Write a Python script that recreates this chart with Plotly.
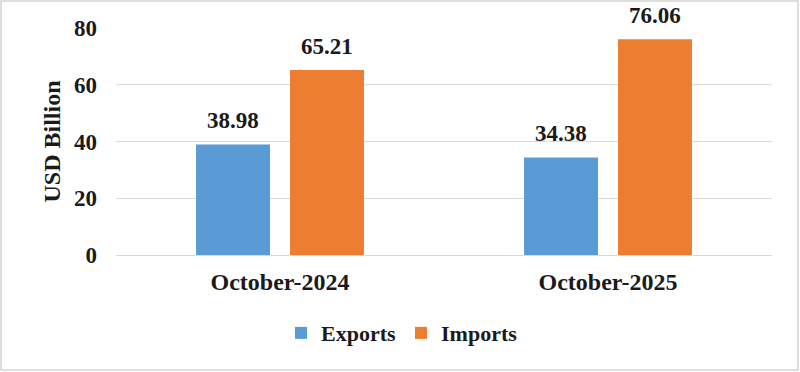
import plotly.graph_objects as go

categories = ["October-2024", "October-2025"]
exports = [38.98, 34.38]
imports = [65.21, 76.06]
series_names = ["Exports", "Imports"]
colors = ["#5B9BD5", "#ED7D31"]
y_ticks = [0, 20, 40, 60, 80]

FONT = "Liberation Serif"
W, H = 800, 372
ML, MR, MT, MB = 116, 28, 28, 117
PW, PH = W - ML - MR, H - MT - MB

fig = go.Figure()
for name, vals, col in zip(series_names, [exports, imports], colors):
    fig.add_trace(go.Bar(x=categories, y=vals, name=f"<b>{name}</b>",
                         marker=dict(color=col, line=dict(width=0))))

# data labels
for i, vals in enumerate([exports, imports]):
    shift = -47 if i == 0 else 47
    for c, v in zip(categories, vals):
        fig.add_annotation(x=c, y=v, text=f"<b>{v:.2f}</b>", showarrow=False,
                           xshift=shift, yshift=9, yanchor="bottom",
                           font=dict(family=FONT, size=23, color="#1a1a1a"))

# outer border
fig.add_shape(type="rect", xref="paper", yref="paper",
              x0=(1 - ML) / PW, x1=(W - 2 - ML) / PW,
              y0=-(H - 2 - MT - PH) / PH, y1=1 + (MT - 1) / PH,
              line=dict(color="#d4d4d4", width=1.5), layer="below")

fig.update_layout(
    width=W, height=H,
    margin=dict(l=ML, r=MR, t=MT, b=MB),
    paper_bgcolor="white", plot_bgcolor="white",
    barmode="group", bargap=0.427, bargroupgap=0.213,
    font=dict(family=FONT, size=23, color="#1a1a1a"),
    showlegend=True,
    legend=dict(orientation="h", x=0.436, xanchor="center", y=-0.344, yanchor="middle",
                font=dict(family=FONT, size=22, color="#1a1a1a"),
                itemwidth=30, traceorder="normal"),
    xaxis=dict(showgrid=False, showline=False, ticks="", ticklabelstandoff=10,
               tickfont=dict(family=FONT, size=24, color="#1a1a1a"),
               tickvals=categories, ticktext=[f"<b>{c}</b>" for c in categories]),
    yaxis=dict(range=[0, 80], tickvals=y_ticks, ticktext=[f"<b>{t}</b>" for t in y_ticks],
               showgrid=True, gridcolor="#d9d9d9", gridwidth=1.3,
               zeroline=True, zerolinecolor="#d9d9d9", zerolinewidth=1.3,
               showline=False, ticks="", ticklabelstandoff=18,
               tickfont=dict(family=FONT, size=23, color="#1a1a1a"),
               title=dict(text="<b>USD Billion</b>", standoff=6,
                          font=dict(family=FONT, size=24, color="#1a1a1a"))),
)

fig.write_html("out.html")
